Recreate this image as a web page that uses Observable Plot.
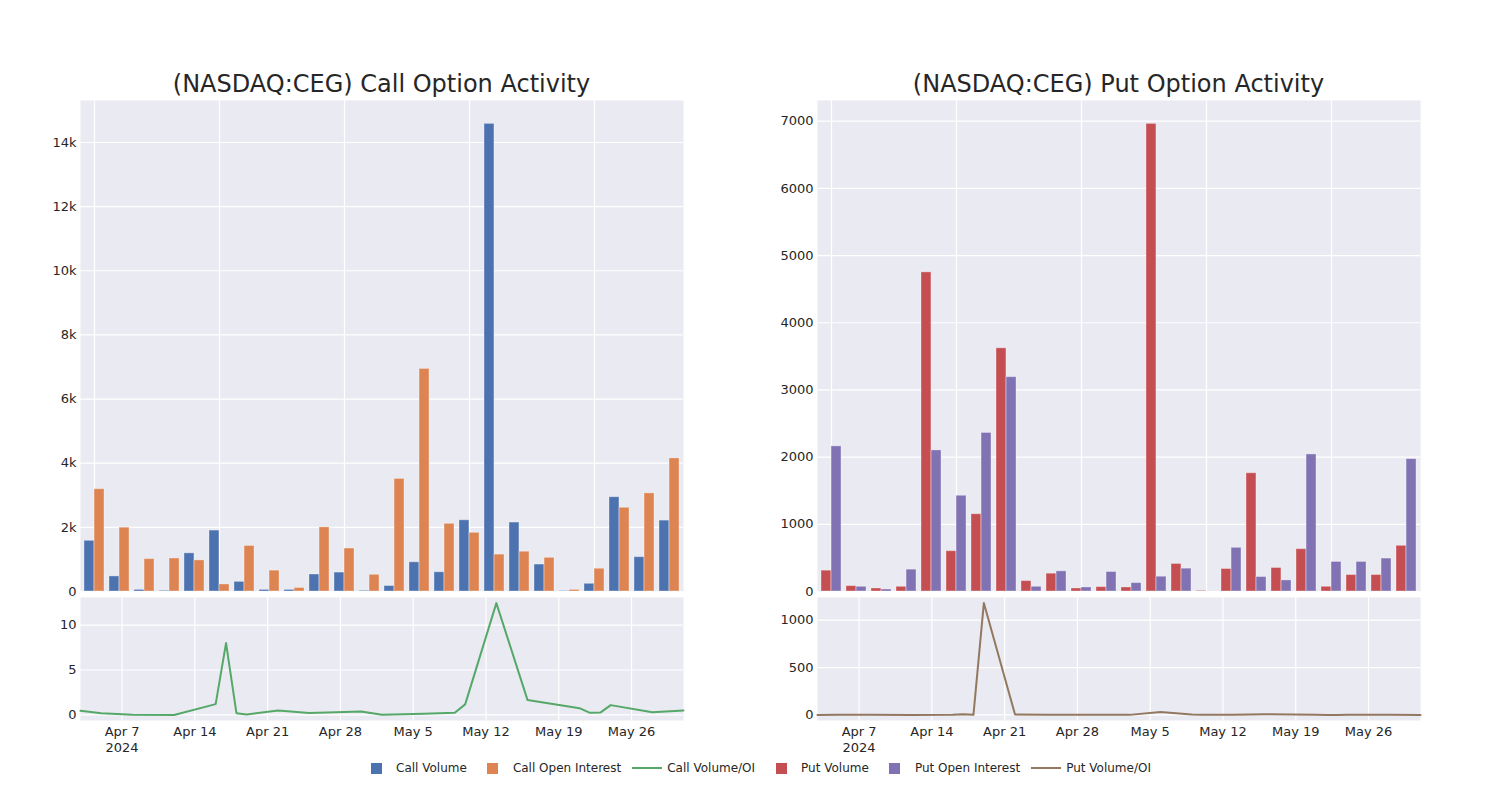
<!DOCTYPE html>
<html><head><meta charset="utf-8">
<script src="https://cdn.jsdelivr.net/npm/d3@7"></script>
<script src="https://cdn.jsdelivr.net/npm/@observablehq/plot@0.6"></script>
<style>
body{margin:0;background:#fff;font-family:"DejaVu Sans",sans-serif;}
#root{position:relative;width:1500px;height:800px;overflow:hidden;}
.panel{position:absolute;}
.title{position:absolute;font-size:24px;line-height:28px;color:#262626;text-align:center;white-space:nowrap;width:603px;}
.legend{position:absolute;left:6px;width:1500px;top:758px;height:20px;display:flex;justify-content:center;align-items:center;font-size:12px;color:#262626;}
.item{display:flex;align-items:center;margin:0 5.5px;}
.hbox{width:30px;height:20px;display:flex;align-items:center;justify-content:center;margin-right:5px;}
.sq{width:11px;height:11px;}
.ln{width:30px;height:2px;}
</style></head><body><div id="root"></div>
<script>
// ---- data ----
const dates = ["2024-04-03","2024-04-05","2024-04-08","2024-04-12","2024-04-16","2024-04-17","2024-04-18","2024-04-19","2024-04-22","2024-04-25","2024-04-30","2024-05-02","2024-05-03","2024-05-06","2024-05-09","2024-05-10","2024-05-13","2024-05-16","2024-05-21","2024-05-22","2024-05-23","2024-05-24","2024-05-28","2024-05-31"];
const callVolume = [1580,470,50,20,1190,1900,300,50,50,530,590,20,170,910,600,2220,14580,2150,840,10,240,2940,1070,2210];
const callOpenInterest = [3190,1990,1010,1030,970,220,1420,650,110,2000,1340,520,3510,6940,2110,1830,1150,1240,1050,50,710,2610,3060,4150];
const callVolOI = [0.45,0.19,0.03,0.0,1.2,8.0,0.19,0.05,0.5,0.22,0.38,0.02,0.05,0.13,0.25,1.17,12.45,1.65,0.75,0.23,0.26,1.09,0.3,0.49];
const putVolume = [310,80,45,70,4750,600,1150,3620,155,265,45,65,60,6960,410,8,335,1760,350,630,70,245,245,680];
const putOpenInterest = [2160,70,30,325,2100,1425,2360,3190,70,300,60,290,125,220,340,0,650,215,165,2040,440,440,490,1970];
const putVolOI = [0.1,1.1,1.5,0.2,2.3,7,0.5,1180,4,3,2,1,0.5,30,5,3,2,8,3,0.3,0.2,0.6,0.5,0.3];
const callYTicks = [0,2000,4000,6000,8000,10000,12000,14000];
const putYTicks = [0,1000,2000,3000,4000,5000,6000,7000];
const callRatioTicks = [0,5,10];
const putRatioTicks = [0,500,1000];
const titles = ["(NASDAQ:CEG) Call Option Activity","(NASDAQ:CEG) Put Option Activity"];
const legendItems = [
  {label:"Call Volume", color:"#4C72B0", kind:"sq"},
  {label:"Call Open Interest", color:"#DD8452", kind:"sq"},
  {label:"Call Volume/OI", color:"#55A868", kind:"ln"},
  {label:"Put Volume", color:"#C44E52", kind:"sq"},
  {label:"Put Open Interest", color:"#8172B3", kind:"sq"},
  {label:"Put Volume/OI", color:"#937860", kind:"ln"}
];

// ---- layout ----
const root = document.getElementById("root");
const BG = "#EAEAF2", INK = "#262626";
const PW = 603;           // plot area width
const ML = 80, MR = 17;   // svg margins
const baseStyle = {fontFamily:"DejaVu Sans", fontSize:"13px", color:INK, background:"transparent", overflow:"visible"};

function place(node, left, top) {
  const d = document.createElement("div");
  d.className = "panel"; d.style.left = left + "px"; d.style.top = top + "px";
  d.appendChild(node); root.appendChild(d);
}

function barChart(vol, oi, colors, yTicks, yFmt) {
  const rows = dates.map((d,i)=>({d, vol: vol[i], oi: oi[i]}));
  const step = PW / dates.length, bw = step * 0.8;
  const yMax = d3.max([...vol, ...oi]) * 1.05;
  return Plot.plot({
    width: ML + PW + MR, height: 491,
    marginLeft: ML, marginRight: MR, marginTop: 0, marginBottom: 0,
    style: baseStyle,
    x: {type:"band", domain: dates, paddingInner: 0.2, paddingOuter: 0.1, axis: null},
    y: {domain:[0, yMax], axis: null},
    marks: [
      Plot.frame({fill: BG, stroke: null}),
      Plot.gridY({ticks: yTicks, stroke:"#fff", strokeOpacity:1, strokeWidth:1.2}),
      Plot.gridX({ticks: dates.filter((d,i)=>i%5===0), stroke:"#fff", strokeOpacity:1, strokeWidth:1.2}),
      Plot.axisY({ticks: yTicks, tickFormat: yFmt, tickSize:0, tickPadding:4, fill: INK, label: null}),
      Plot.barY(rows, {x:"d", y:"vol", fill: colors[0], insetRight: bw/2, stroke:"#fff", strokeOpacity:0.35, strokeWidth:1}),
      Plot.barY(rows, {x:"d", y:"oi", fill: colors[1], insetLeft: bw/2, stroke:"#fff", strokeOpacity:0.35, strokeWidth:1})
    ]
  });
}

function lineChart(ratio, color, yTicks) {
  const rows = dates.map((d,i)=>({date: new Date(d), r: ratio[i]}));
  const x0 = new Date(dates[0]), x1 = new Date(dates[dates.length-1]);
  const weekTicks = d3.utcSunday.range(x0, d3.utcDay.offset(x1, 1));
  const lo = d3.min(ratio), hi = d3.max(ratio), pad = (hi - lo) * 0.05;
  const fmt = d3.utcFormat("%b %-d");
  return Plot.plot({
    width: ML + PW + MR, height: 123 + 45,
    marginLeft: ML, marginRight: MR, marginTop: 0, marginBottom: 45,
    style: baseStyle,
    x: {type:"utc", domain:[x0, x1], axis: null},
    y: {domain:[lo - pad, hi + pad], axis: null},
    marks: [
      Plot.frame({fill: BG, stroke: null}),
      Plot.gridY({ticks: yTicks, stroke:"#fff", strokeOpacity:1, strokeWidth:1.2}),
      Plot.gridX({ticks: weekTicks, stroke:"#fff", strokeOpacity:1, strokeWidth:1.2}),
      Plot.axisY({ticks: yTicks, tickFormat: d => String(d), tickSize:0, tickPadding:4, fill: INK, label: null}),
      Plot.axisX({ticks: weekTicks, tickSize:0, tickPadding:4, lineHeight:1.23, fill: INK, label: null,
        tickFormat: (d,i) => i === 0 ? fmt(d) + "\n" + d.getUTCFullYear() : fmt(d)}),
      Plot.lineY(rows, {x:"date", y:"r", stroke: color, strokeWidth: 2})
    ]
  });
}

const kfmt = d => d === 0 ? "0" : (d/1000) + "k";
const ifmt = d => String(d);

place(barChart(callVolume, callOpenInterest, ["#4C72B0","#DD8452"], callYTicks, kfmt), 0, 100);
place(lineChart(callVolOI, "#55A868", callRatioTicks), 0, 597);
place(barChart(putVolume, putOpenInterest, ["#C44E52","#8172B3"], putYTicks, ifmt), 737, 100);
place(lineChart(putVolOI, "#937860", putRatioTicks), 737, 597);

titles.forEach((t, i) => {
  const d = document.createElement("div");
  d.className = "title"; d.textContent = t;
  d.style.left = (ML + i*737) + "px"; d.style.top = "70px";
  root.appendChild(d);
});

const lg = document.createElement("div"); lg.className = "legend";
legendItems.forEach(it => {
  const item = document.createElement("div"); item.className = "item";
  const hb = document.createElement("div"); hb.className = "hbox";
  const m = document.createElement("div"); m.className = it.kind; m.style.background = it.color;
  hb.appendChild(m); item.appendChild(hb);
  const s = document.createElement("span"); s.textContent = it.label; item.appendChild(s);
  lg.appendChild(item);
});
root.appendChild(lg);
</script>
</body></html>
